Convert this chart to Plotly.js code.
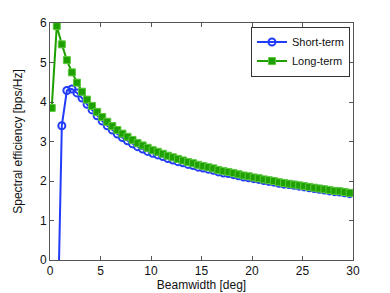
<!DOCTYPE html>
<html>
<head>
<meta charset="utf-8">
<script src="https://cdn.plot.ly/plotly-3.0.1.min.js"></script>
<style>html,body{margin:0;padding:0;background:#fff;}#chart{width:390px;height:293px;}</style>
</head>
<body>
<div id="chart"></div>
<script>
const beamwidth = [0.17,0.67,1.17,1.67,2.17,2.67,3.17,3.67,4.17,4.67,5.17,5.67,6.17,6.67,7.17,7.67,8.17,8.67,9.17,9.67,
  10.17,10.67,11.17,11.67,12.17,12.67,13.17,13.67,14.17,14.67,15.17,15.67,16.17,16.67,17.17,17.67,18.17,18.67,19.17,19.67,
  20.17,20.67,21.17,21.67,22.17,22.67,23.17,23.67,24.17,24.67,25.17,25.67,26.17,26.67,27.17,27.67,28.17,28.67,29.17,29.67];
const shortTerm = [-9,-2.8,3.40,4.29,4.33,4.23,4.10,3.94,3.80,3.65,3.52,3.40,3.29,3.19,3.10,3.02,2.94,2.87,2.81,2.75,
  2.70,2.66,2.62,2.57,2.53,2.49,2.46,2.42,2.39,2.35,2.33,2.30,2.27,2.23,2.20,2.19,2.16,2.13,2.10,2.08,
  2.06,2.04,2.01,1.99,1.97,1.94,1.92,1.91,1.89,1.87,1.85,1.83,1.81,1.79,1.77,1.75,1.73,1.72,1.70,1.68];
const longTerm = [3.85,5.92,5.46,5.06,4.75,4.49,4.26,4.06,3.90,3.75,3.62,3.50,3.39,3.29,3.20,3.12,3.04,2.96,2.90,2.84,
  2.78,2.74,2.69,2.64,2.60,2.56,2.52,2.48,2.45,2.41,2.38,2.35,2.32,2.28,2.25,2.23,2.20,2.17,2.14,2.12,
  2.09,2.07,2.04,2.02,2.00,1.97,1.95,1.93,1.91,1.89,1.87,1.85,1.83,1.81,1.79,1.77,1.75,1.74,1.72,1.70];
const seriesNames = ['Short-term','Long-term'];
const xTicks = [0,5,10,15,20,25,30];
const yTicks = [0,1,2,3,4,5,6];

const blue = 'rgb(35,60,250)';
const green = 'rgb(30,160,0)';

const traces = [
  {x: beamwidth, y: shortTerm, name: seriesNames[0], mode: 'lines+markers', type: 'scatter',
   line: {color: blue, width: 2},
   marker: {symbol: 'circle-open', size: 7, color: blue, line: {width: 2, color: blue}}},
  {x: beamwidth, y: longTerm, name: seriesNames[1], mode: 'lines+markers', type: 'scatter',
   line: {color: green, width: 2},
   marker: {symbol: 'square', size: 7, color: green, line: {width: 1, color: 'rgb(90,200,60)'}}}
];

const axisCommon = {
  showgrid: false, zeroline: false, showline: true, linecolor: '#555', linewidth: 1,
  mirror: 'ticks', ticks: 'inside', ticklen: 4, tickcolor: '#555', tickwidth: 1,
  tickfont: {family: 'Liberation Sans, Arial, sans-serif', size: 12, color: '#111'}
};

const layout = {
  width: 390, height: 293,
  margin: {l: 50, r: 37, t: 23, b: 33},
  paper_bgcolor: '#fff', plot_bgcolor: '#fff',
  font: {family: 'Liberation Sans, Arial, sans-serif', size: 12, color: '#111'},
  xaxis: Object.assign({}, axisCommon, {range: [0, 30], tickvals: xTicks,
    title: {text: 'Beamwidth [deg]', font: {size: 12}, standoff: 1}}),
  yaxis: Object.assign({}, axisCommon, {range: [0, 6], tickvals: yTicks,
    title: {text: 'Spectral efficiency [bps/Hz]', font: {size: 12}, standoff: 14}}),
  showlegend: true,
  legend: {x: 0.99, xanchor: 'right', y: 0.985, yanchor: 'top',
    bgcolor: '#fff', bordercolor: '#333', borderwidth: 1,
    font: {size: 11}, tracegroupgap: 0, itemwidth: 30}
};

Plotly.newPlot('chart', traces, layout, {displayModeBar: false, staticPlot: true});
</script>
</body>
</html>
